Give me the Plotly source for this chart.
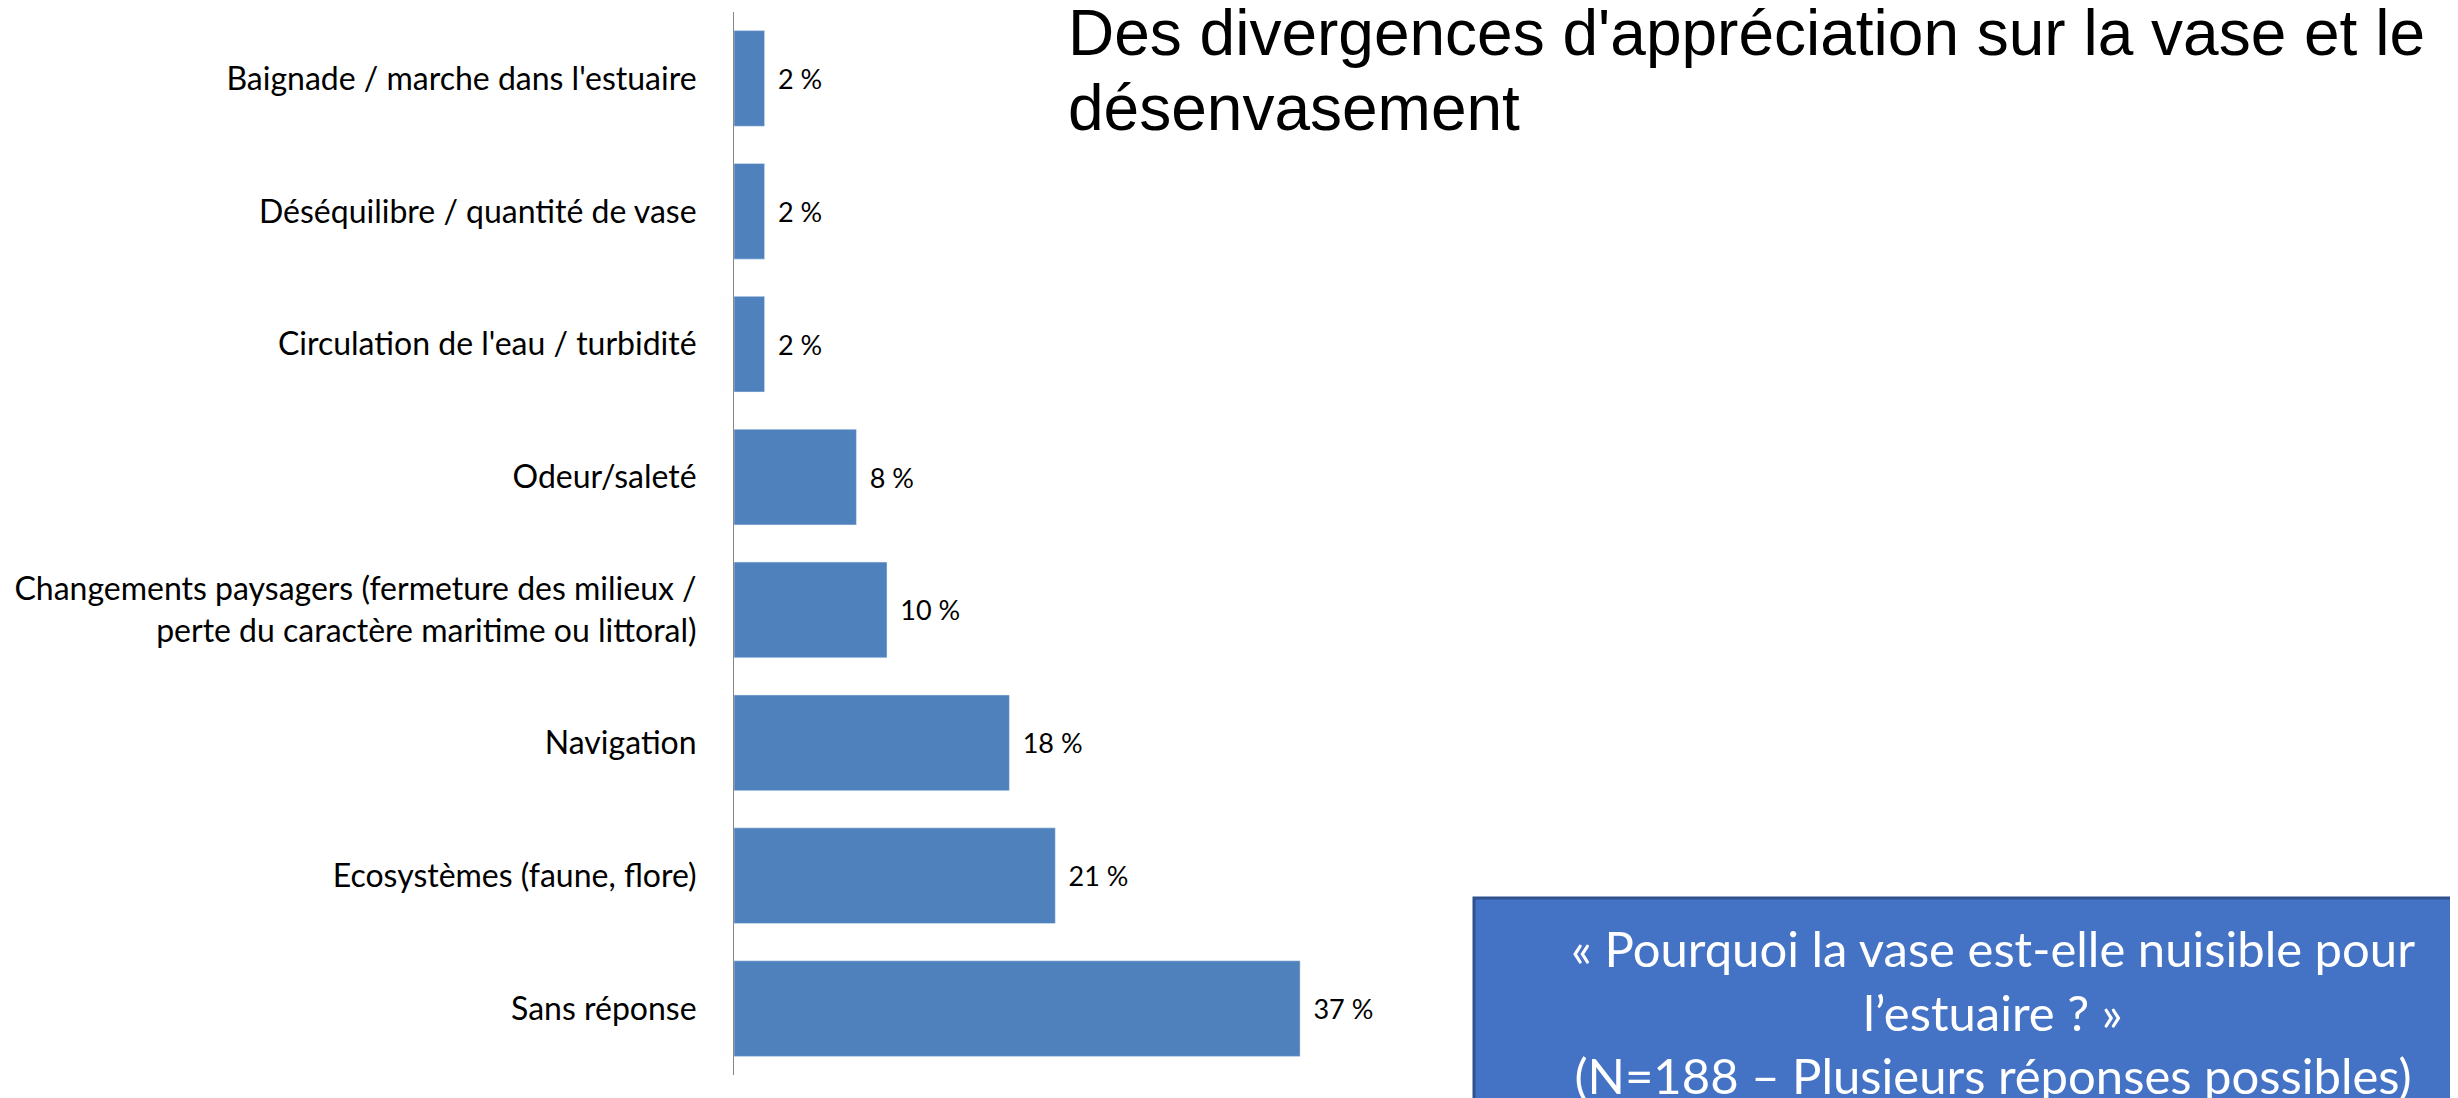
import plotly.graph_objects as go

categories = [
    "Baignade / marche dans l'estuaire",
    "Déséquilibre / quantité de vase",
    "Circulation de l'eau / turbidité",
    "Odeur/saleté",
    "Changements paysagers (fermeture des milieux /<br>perte du caractère maritime ou littoral)",
    "Navigation",
    "Ecosystèmes (faune, flore)",
    "Sans réponse",
]
values = [2, 2, 2, 8, 10, 18, 21, 37]
value_labels = ["2 %", "2 %", "2 %", "8 %", "10 %", "18 %", "21 %", "37 %"]

title_lines = ["Des divergences d'appréciation sur la vase et le", "désenvasement"]
box_text = ("« Pourquoi la vase est-elle nuisible pour<br>l’estuaire ? »<br>"
            "(N=188 – Plusieurs réponses possibles)")

# page has an 8px body margin, positions below are in page pixels
OFF = 8
W, H = 2458, 1098
plot_left, plot_right = 734, 1346
plot_top, plot_bottom = 12, 1075
L = plot_left - OFF
R = W - (plot_right - OFF)
T = plot_top - OFF
B = H - (plot_bottom - OFF)
plot_w = plot_right - plot_left
plot_h = plot_bottom - plot_top


def px_x(px):
    return (px - plot_left) / plot_w


def px_y(py):
    return (plot_bottom - py) / plot_h


fig = go.Figure(go.Bar(
    x=values,
    y=categories,
    orientation="h",
    marker_color="#4F81BD",
    width=0.72,
    text=["\u00a0\u2009" + t for t in value_labels],
    textposition="outside",
    textfont=dict(family="Lato", size=27, color="#000000"),
    cliponaxis=False,
))

fig.update_layout(
    width=W,
    height=H,
    margin=dict(l=L, r=R, t=T, b=B),
    paper_bgcolor="white",
    plot_bgcolor="white",
    showlegend=False,
    font=dict(family="Lato", color="#000000"),
    xaxis=dict(range=[0, 40], visible=False, fixedrange=True),
    yaxis=dict(
        autorange="reversed",
        showline=True,
        linecolor="#868686",
        linewidth=1,
        showgrid=False,
        ticks="",
        ticklabelstandoff=30,
        tickfont=dict(family="Lato", size=32, color="#000000"),
    ),
)

# title, two lines placed separately for tighter line spacing
title_size = 64
for line, baseline in zip(title_lines, [54, 129]):
    fig.add_annotation(
        text=line, xref="paper", yref="paper",
        x=px_x(1066), y=px_y(baseline - 0.33 * title_size),
        xanchor="left", yanchor="middle",
        align="left", showarrow=False,
        font=dict(family="Liberation Sans", size=title_size, color="#000000"),
    )

# question box
fig.add_shape(
    type="rect", xref="paper", yref="paper",
    x0=px_x(1474), x1=px_x(2490), y0=px_y(898), y1=px_y(1130),
    fillcolor="#4472C4", line=dict(color="#2F528F", width=3),
)
fig.add_annotation(
    text=box_text, xref="paper", yref="paper",
    x=px_x(1993), y=px_y(1011), xanchor="center", yanchor="middle",
    align="center", showarrow=False,
    font=dict(family="Lato", size=49, color="#FFFFFF"),
)

fig.write_html("out.html")
